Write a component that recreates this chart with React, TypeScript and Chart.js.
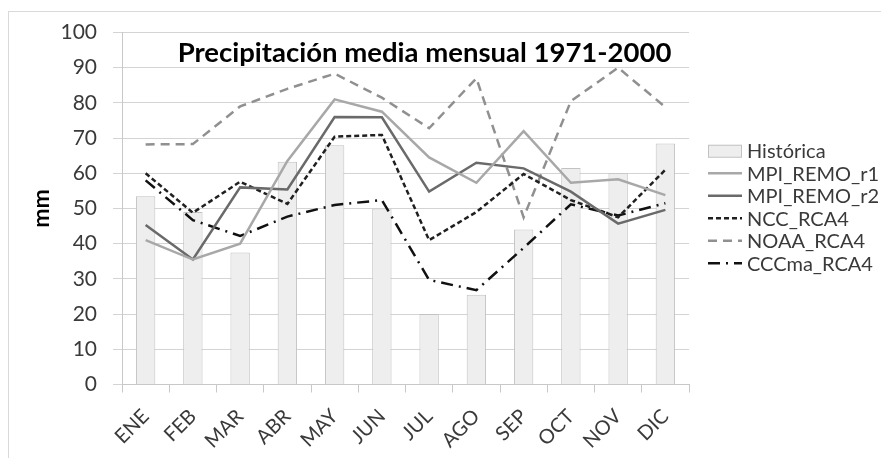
import React, { useEffect, useRef } from 'react';
import { Chart, registerables } from 'chart.js';

Chart.register(...registerables);

const CATEGORIES = ['ENE', 'FEB', 'MAR', 'ABR', 'MAY', 'JUN', 'JUL', 'AGO', 'SEP', 'OCT', 'NOV', 'DIC'];
const HISTORICA = [53.5, 49, 37.5, 63.3, 68, 50, 20, 25.5, 44, 61.5, 60, 68.5];
const MPI_REMO_R1 = [41, 35.5, 40, 63.5, 81, 77.5, 64.5, 57.3, 72, 57.3, 58.3, 53.8];
const MPI_REMO_R2 = [45.3, 35.5, 56, 55.4, 76, 75.9, 54.8, 63, 61.4, 54.8, 45.7, 49.6];
const NCC_RCA4 = [60, 48.8, 57.6, 51.3, 70.4, 70.9, 41, 49, 59.8, 52.4, 47.5, 61];
const NOAA_RCA4 = [68.2, 68.3, 79, 84, 88.3, 81.5, 72.8, 87, 47.5, 80.5, 90, 78.8];
const CCCMA_RCA4 = [58, 46.7, 42.2, 47.7, 51, 52.4, 29.7, 26.8, 38.8, 51.2, 48, 51.5];
const Y_TICKS = [0, 10, 20, 30, 40, 50, 60, 70, 80, 90, 100];
const TITLE = 'Precipitación media mensual 1971-2000';
const Y_TITLE = 'mm';

const FONT = 'Lato, "Noto Sans", sans-serif';
const TEXT_COLOR = '#3a3a3a';

const plotTitlePlugin = {
  id: 'plotTitle',
  afterDraw(chart: any) {
    const { ctx, chartArea } = chart;
    ctx.save();
    ctx.font = `bold 27.5px ${FONT}`;
    ctx.fillStyle = '#000000';
    ctx.textAlign = 'center';
    ctx.textBaseline = 'alphabetic';
    ctx.fillText(TITLE, chartArea.left + 302.5, chartArea.top + 29.5);
    ctx.restore();
  },
};

const sideLegendPlugin = {
  id: 'sideLegend',
  afterDraw(chart: any) {
    const { ctx, chartArea } = chart;
    const datasets = chart.data.datasets;
    const n = datasets.length;
    const x0 = chartArea.right + 19;
    const symW = 34;
    const textX = chartArea.right + 58;
    const cy = (chartArea.top + chartArea.bottom) / 2 - 1.5;
    const step = 22.5;
    ctx.save();
    ctx.font = `20px ${FONT}`;
    ctx.textBaseline = 'middle';
    ctx.textAlign = 'left';
    datasets.forEach((ds: any, i: number) => {
      const y = cy + (i - (n - 1) / 2) * step;
      if (ds.type === 'bar') {
        ctx.fillStyle = ds.backgroundColor;
        ctx.fillRect(x0, y - 6, symW, 12.5);
        ctx.strokeStyle = ds.borderColor;
        ctx.lineWidth = 1;
        ctx.strokeRect(x0 + 0.5, y - 5.5, symW - 1, 12);
      } else {
        ctx.beginPath();
        ctx.setLineDash(ds.borderDash || []);
        ctx.strokeStyle = ds.borderColor;
        ctx.lineWidth = ds.borderWidth;
        ctx.moveTo(x0, y);
        ctx.lineTo(x0 + symW, y);
        ctx.stroke();
        ctx.setLineDash([]);
      }
      ctx.fillStyle = TEXT_COLOR;
      ctx.fillText(ds.label, textX, y + 1);
    });
    ctx.restore();
  },
};

function lineSet(label: string, data: number[], color: string, dash: number[], width: number) {
  return {
    type: 'line' as const,
    label,
    data,
    borderColor: color,
    backgroundColor: color,
    borderDash: dash,
    borderWidth: width,
    pointRadius: 0,
    pointHoverRadius: 0,
    tension: 0,
    fill: false,
    order: 0,
  };
}

export default function App() {
  const canvasRef = useRef<HTMLCanvasElement | null>(null);

  useEffect(() => {
    if (!canvasRef.current) return;
    const chart = new Chart(canvasRef.current, {
      type: 'bar',
      data: {
        labels: CATEGORIES,
        datasets: [
          {
            type: 'bar',
            label: 'Histórica',
            data: HISTORICA,
            backgroundColor: '#eeeeee',
            borderColor: '#c2c2c2',
            borderWidth: 1,
            barPercentage: 0.41,
            categoryPercentage: 1,
            order: 1,
          } as any,
          lineSet('MPI_REMO_r1', MPI_REMO_R1, '#a8a8a8', [], 2.5),
          lineSet('MPI_REMO_r2', MPI_REMO_R2, '#6a6a6a', [], 2.5),
          lineSet('NCC_RCA4', NCC_RCA4, '#202020', [5, 3], 2.5),
          lineSet('NOAA_RCA4', NOAA_RCA4, '#909090', [9, 6], 2.5),
          lineSet('CCCma_RCA4', CCCMA_RCA4, '#111111', [12, 6, 2, 6], 2.5),
        ],
      },
      options: {
        animation: false,
        responsive: false,
        devicePixelRatio: 1,
        layout: { padding: { left: 0, right: 192, top: 32.5, bottom: 0 } },
        plugins: {
          legend: { display: false },
          tooltip: { enabled: false },
          title: { display: false },
        },
        scales: {
          x: {
            type: 'category',
            offset: true,
            grid: {
              offset: true,
              drawOnChartArea: false,
              drawTicks: true,
              tickLength: 8,
              color: '#c8c8c8',
              lineWidth: 1,
            },
            border: { display: true, color: '#c8c8c8', width: 1 },
            ticks: {
              minRotation: 45,
              maxRotation: 45,
              autoSkip: false,
              padding: 12,
              color: TEXT_COLOR,
              font: { family: FONT, size: 20 },
            },
            afterFit: (s: any) => {
              s.height = 73.5;
            },
          },
          y: {
            min: 0,
            max: 100,
            afterBuildTicks: (s: any) => {
              s.ticks = Y_TICKS.map((v) => ({ value: v }));
            },
            ticks: {
              padding: 16,
              color: TEXT_COLOR,
              font: { family: FONT, size: 21 },
            },
            grid: { color: '#d4d4d4', lineWidth: 1, tickLength: 9, drawTicks: true },
            border: { display: true, color: '#c8c8c8', width: 1 },
            title: {
              display: true,
              text: Y_TITLE,
              color: '#000000',
              font: { family: FONT, size: 23, weight: 'bold' },
              padding: { top: 28, bottom: 0 },
            },
            afterFit: (s: any) => {
              s.width = 122;
            },
          },
        },
      } as any,
      plugins: [plotTitlePlugin, sideLegendPlugin],
    });
    return () => chart.destroy();
  }, []);

  return (
    <div style={{ position: 'fixed', left: 0, top: 0, width: 881, height: 458, background: '#ffffff', overflow: 'hidden' }}>
      <div
        style={{
          position: 'absolute',
          left: 8,
          top: 11,
          width: 900,
          height: 500,
          borderLeft: '1px solid #d9d9d9',
          borderTop: '1px solid #d9d9d9',
        }}
      />
      <canvas
        ref={canvasRef}
        width={881}
        height={458}
        style={{ position: 'absolute', left: 0, top: 0, display: 'block', width: 881, height: 458 }}
      />
    </div>
  );
}
